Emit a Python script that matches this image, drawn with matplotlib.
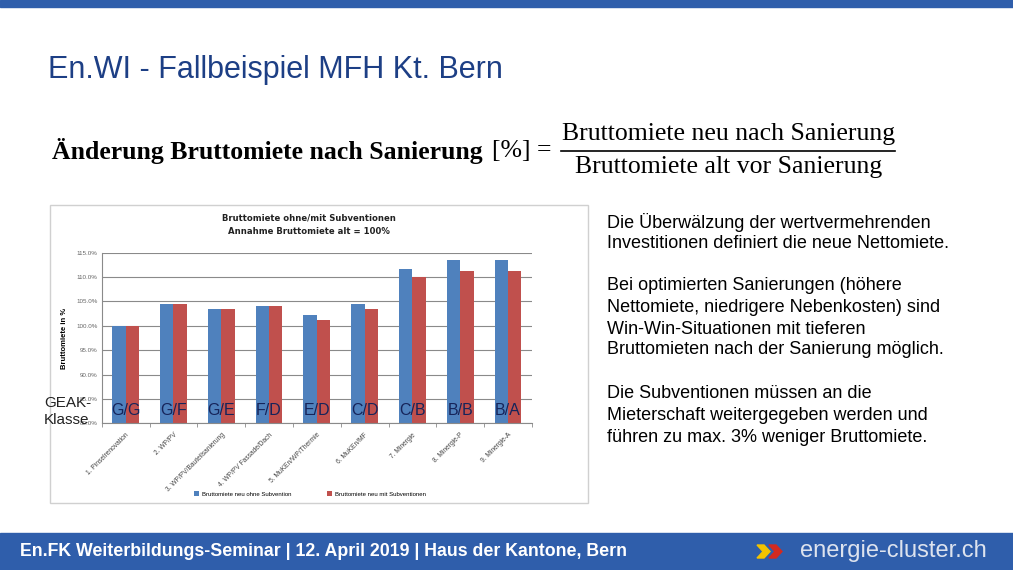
import numpy as np
import matplotlib.pyplot as plt
from matplotlib.patches import Rectangle, Polygon
from matplotlib.lines import Line2D

# chart data
varianten = ['1. Pinselrenovation', '2. WP/PV', '3. WP/PV/Bauteilsanierung',
             '4. WP/PV Fassade/Dach', '5. MuKEn/WP/Thermie', '6. MuKEn/MF',
             '7. Minergie', '8. Minergie-P', '9. Minergie-A']
geak = ['G/G', 'G/F', 'G/E', 'F/D', 'E/D', 'C/D', 'C/B', 'B/B', 'B/A']
ohne_subv = [100.0, 104.5, 103.5, 104.0, 102.2, 104.5, 111.6, 113.4, 113.4]
mit_subv = [100.0, 104.5, 103.5, 104.0, 101.2, 103.4, 110.0, 111.3, 111.3]
yticks = [80, 85, 90, 95, 100, 105, 110, 115]

W, H = 1013, 570
blue = '#2f5eab'
plt.rcParams['font.family'] = ['Liberation Sans', 'DejaVu Sans']

fig = plt.figure(figsize=(W / 100, H / 100), dpi=100)
fig.patch.set_facecolor('white')

def fx(px):
    return px / W

def fy(py):
    return 1 - py / H

# slide frame: top stripe and footer
fig.patches.append(Rectangle((0, fy(7)), 1, 7 / H, transform=fig.transFigure,
                             color=blue, zorder=0))
fig.patches.append(Rectangle((0, 0), 1, fy(533), transform=fig.transFigure,
                             color=blue, zorder=0))

fig.text(fx(48), fy(70), 'En.WI - Fallbeispiel MFH Kt. Bern', fontsize=22,
         color='#1d3f85', va='center', ha='left')

# formula
serif = 'Liberation Serif'
fig.text(fx(52), fy(151), 'Änderung Bruttomiete nach Sanierung', fontsize=18.5,
         fontweight='bold', family=serif, va='center', ha='left')
fig.text(fx(492), fy(151), '[%] =', fontsize=18.5, family=serif,
         va='center', ha='left')
fig.text(fx(729), fy(134), 'Bruttomiete neu nach Sanierung', fontsize=18.5,
         family=serif, va='center', ha='center')
fig.text(fx(729), fy(167), 'Bruttomiete alt vor Sanierung', fontsize=18.5,
         family=serif, va='center', ha='center')
fig.lines.append(Line2D([fx(561), fx(895)], [fy(151), fy(151)],
                        transform=fig.transFigure, color='black', lw=1.2))

# chart frame (embedded image look)
fig.patches.append(Rectangle((fx(50), fy(503)), fx(588) - fx(50), fy(205) - fy(503),
                             transform=fig.transFigure, facecolor='white',
                             edgecolor='#d0d0d0', lw=1, zorder=0.5))
fig.text(fx(309), fy(218), 'Bruttomiete ohne/mit Subventionen', fontsize=6.1,
         fontweight='bold', ha='center', va='center', color='#222222',
         family='DejaVu Sans')
fig.text(fx(309), fy(231.5), 'Annahme Bruttomiete alt = 100%', fontsize=6.1,
         fontweight='bold', ha='center', va='center', color='#222222',
         family='DejaVu Sans')

ax = fig.add_axes([fx(101.7), fy(423.3), fx(532) - fx(101.7), fy(252.7) - fy(423.3)])
ax.set_zorder(2)
ax.patch.set_alpha(0)
x = np.arange(len(varianten))
w = 0.28
ax.bar(x - w / 2, ohne_subv, w, color='#4f81bd', label='Bruttomiete neu ohne Subvention', zorder=2)
ax.bar(x + w / 2, mit_subv, w, color='#c0504d', label='Bruttomiete neu mit Subventionen', zorder=2)
ax.set_ylim(80, 115)
ax.set_xlim(-0.5, len(varianten) - 0.5)
ax.set_yticks(yticks)
ax.set_yticklabels([f'{v:.1f}%' for v in yticks], fontsize=4.5, color='#666666')
ax.yaxis.grid(True, color='#8a8a8a', lw=0.8, zorder=0)
ax.set_axisbelow(True)
ax.tick_params(axis='y', length=0, pad=3)
ax.set_xticks(x)
ax.set_xticklabels(varianten, rotation=45, ha='right', rotation_mode='anchor',
                   fontsize=4.8, color='#444444')
ax.set_xticks(np.arange(len(varianten) + 1) - 0.5, minor=True)
ax.tick_params(axis='x', which='major', length=0, pad=6)
ax.tick_params(axis='x', which='minor', length=3, color='#8a8a8a')
for s in ['top', 'right']:
    ax.spines[s].set_visible(False)
for s in ['left', 'bottom']:
    ax.spines[s].set_color('#8a8a8a')
ax.set_ylabel('Bruttomiete in %', fontsize=5.5, fontweight='bold', labelpad=6)

for i, g in enumerate(geak):
    ax.text(i, 82.6, g, ha='center', va='center', fontsize=11.5, color='#16245a', zorder=3)
fig.text(fx(44), fy(403), 'GEAK-', fontsize=11, va='center', ha='left', color='#222222', zorder=5)
fig.text(fx(44), fy(420), 'Klasse', fontsize=11, va='center', ha='left', color='#222222', zorder=5)

ax.legend(ncol=2, loc='center', bbox_to_anchor=(fx(310), fy(494)),
          bbox_transform=fig.transFigure, frameon=False, fontsize=4.3,
          handlelength=0.8, handleheight=0.8, columnspacing=6, handletextpad=0.5)

# right hand text
lines = [('Die Überwälzung der wertvermehrenden', 222),
         ('Investitionen definiert die neue Nettomiete.', 243),
         ('Bei optimierten Sanierungen (höhere', 286),
         ('Nettomiete, niedrigere Nebenkosten) sind', 307),
         ('Win-Win-Situationen mit tieferen', 329),
         ('Bruttomieten nach der Sanierung möglich.', 350),
         ('Die Subventionen müssen an die', 394),
         ('Mieterschaft weitergegeben werden und', 415),
         ('führen zu max. 3% weniger Bruttomiete.', 437)]
for txt, yy in lines:
    fig.text(fx(607), fy(yy), txt, fontsize=13, va='center', ha='left', color='black')

# footer
fig.text(fx(20), fy(552), 'En.FK Weiterbildungs-Seminar | 12. April 2019 | Haus der Kantone, Bern',
         fontsize=12.8, fontweight='bold', color='white', va='center', ha='left')
fig.patches.append(Polygon([(fx(757), fy(545)), (fx(764), fy(545)), (fx(770), fy(551.5)),
                            (fx(764), fy(558)), (fx(757), fy(558)), (fx(763), fy(551.5))],
                           closed=True, transform=fig.transFigure, color='#f2c300'))
fig.patches.append(Polygon([(fx(769), fy(545)), (fx(776), fy(545)), (fx(782), fy(551.5)),
                            (fx(776), fy(558)), (fx(769), fy(558)), (fx(775), fy(551.5))],
                           closed=True, transform=fig.transFigure, color='#d42a20'))
fig.text(fx(800), fy(551), 'energie-cluster.ch', fontsize=17, color='#dde3ee',
         va='center', ha='left')

fig.savefig('out.png', dpi=100)
